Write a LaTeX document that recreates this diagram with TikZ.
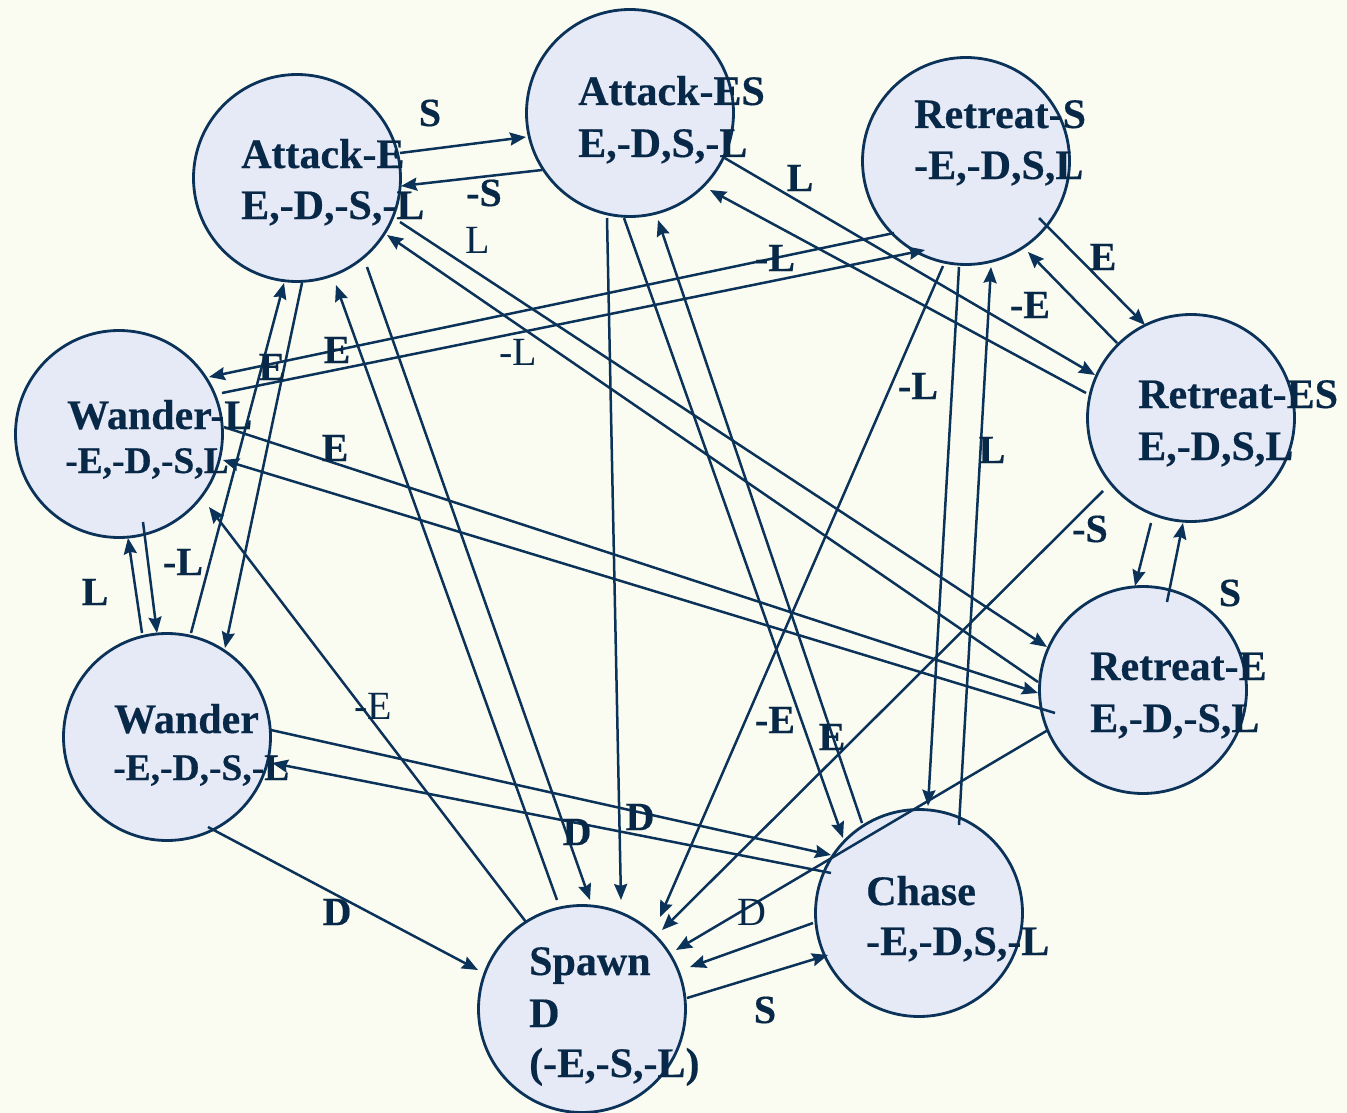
\documentclass[tikz,border=0pt]{standalone}
\usepackage{fontspec}
\setmainfont[BoldFeatures={FakeBold=0.4}]{Liberation Serif}
\usetikzlibrary{arrows.meta,calc}
\definecolor{bgc}{HTML}{FBFCF1}
\definecolor{fillc}{HTML}{E6E9F6}
\definecolor{linec}{HTML}{0B3258}
\definecolor{textc}{HTML}{082848}
\begin{document}
\begin{tikzpicture}[x=1pt,y=-1pt,
  state/.style={circle,draw=linec,fill=fillc,line width=2.8pt,minimum size=207pt,inner sep=0pt},
  conn/.style={draw=linec,line width=2.5pt,-{Stealth[length=16pt,width=13pt,inset=2pt]}},
  ntext/.style={anchor=base west,text=textc,font=\fontsize{42}{50}\selectfont\bfseries,inner sep=0pt},
  ntexts/.style={anchor=base west,text=textc,font=\fontsize{37.5}{45}\selectfont\bfseries,inner sep=0pt},
  lab/.style={text=textc,font=\fontsize{40}{48}\selectfont\bfseries,inner sep=0pt},
  labr/.style={text=textc,font=\fontsize{40}{48}\selectfont,inner sep=0pt}]
\fill[bgc] (0,0) rectangle (1347,1113);
\useasboundingbox (0,0) rectangle (1347,1113);
% states
\node[state] (ae)  at (297,178) {};
\node[state] (aes) at (630,113) {};
\node[state] (rs)  at (966,161) {};
\node[state] (wl)  at (119,434) {};
\node[state] (res) at (1191,418) {};
\node[state] (re)  at (1143,690) {};
\node[state] (w)   at (167,737) {};
\node[state] (sp)  at (582,1009) {};
\node[state] (ch)  at (919,913) {};
% connectors
\draw[conn] ($(ae)+(103,-25)$) -- ($(aes)+(-104,24)$);
\draw[conn] ($(aes)+(-88,57)$) -- ($(ae)+(104,8)$);
\draw[conn] ($(ae)+(103,44)$) -- ($(re)+(-96,-43)$);
\draw[conn] ($(re)+(-105,-8)$) -- ($(ae)+(90,57)$);
\draw[conn] ($(wl)+(105,-7)$) -- ($(re)+(-105,3)$);
\draw[conn] ($(re)+(-88,23)$) -- ($(wl)+(104,26)$);
\draw[conn] ($(re)+(-95,40)$) -- ($(sp)+(94,-59)$);
\draw[conn] ($(re)+(24,-88)$) -- ($(res)+(-8,105)$);
\draw[conn] ($(res)+(-40,105)$) -- ($(re)+(-8,-104)$);
\draw[conn] ($(res)+(-88,73)$) -- ($(sp)+(80,-79)$);
\draw[conn] ($(rs)+(-23,105)$) -- ($(sp)+(78,-92)$);
\draw[conn] ($(aes)+(-23,105)$) -- ($(sp)+(39,-109)$);
\draw[conn] ($(ae)+(70,89)$) -- ($(sp)+(8,-109)$);
\draw[conn] ($(sp)+(-25,-109)$) -- ($(ae)+(39,107)$);
\draw[conn] ($(wl)+(103,-41)$) -- ($(rs)+(-41,89)$);
\draw[conn] ($(rs)+(-72,72)$) -- ($(wl)+(90,-57)$);
\draw[conn] ($(w)+(24,-104)$) -- ($(ae)+(-13,105)$);
\draw[conn] ($(ae)+(5,105)$) -- ($(w)+(58,-89)$);
\draw[conn] ($(w)+(-25,-104)$) -- ($(wl)+(9,104)$);
\draw[conn] ($(wl)+(24,88)$) -- ($(w)+(-10,-104)$);
\draw[conn] ($(sp)+(-56,-87)$) -- ($(wl)+(90,73)$);
\draw[conn] ($(w)+(41,90)$) -- ($(sp)+(-104,-39)$);
\draw[conn] ($(w)+(104,-7)$) -- ($(ch)+(-88,-58)$);
\draw[conn] ($(ch)+(-88,-40)$) -- ($(w)+(105,26)$);
\draw[conn] ($(ch)+(-106,10)$) -- ($(sp)+(108,-42)$);
\draw[conn] ($(sp)+(105,-11)$) -- ($(ch)+(-91,42)$);
\draw[conn] ($(aes)+(-6,105)$) -- ($(ch)+(-76,-75)$);
\draw[conn] ($(ch)+(-57,-90)$) -- ($(aes)+(28,107)$);
\draw[conn] ($(rs)+(-7,106)$) -- ($(ch)+(9,-107)$);
\draw[conn] ($(ch)+(40,-88)$) -- ($(rs)+(25,106)$);
\draw[conn] ($(aes)+(93,44)$) -- ($(res)+(-96,-43)$);
\draw[conn] ($(res)+(-105,-25)$) -- ($(aes)+(80,77)$);
\draw[conn] ($(rs)+(73,57)$) -- ($(res)+(-46,-93)$);
\draw[conn] ($(res)+(-74,-75)$) -- ($(rs)+(62,91)$);
% state texts
\node[ntext] (aet1) at (241,168) {Attack-E};
\node[ntext] (aet2) at (241,219) {E,-D,-S,-L};
\node[ntext] (aest1) at (578,105) {Attack-ES};
\node[ntext] (aest2) at (578,157) {E,-D,S,-L};
\node[ntext] (rst1) at (914,128) {Retreat-S};
\node[ntext] (rst2) at (914,179) {-E,-D,S,L};
\node[ntext] (wlt1) at (67,429) {Wander-L};
\node[ntexts] (wlt2) at (65,473) {-E,-D,-S,L};
\node[ntext] (wt1) at (114,733) {Wander};
\node[ntexts] (wt2) at (113,780) {-E,-D,-S,-L};
\node[ntext] (rest1) at (1138,408) {Retreat-ES};
\node[ntext] (rest2) at (1138,460) {E,-D,S,L};
\node[ntext] (ret1) at (1090,680) {Retreat-E};
\node[ntext] (ret2) at (1090,732) {E,-D,-S,L};
\node[ntext] (cht1) at (866,905) {Chase};
\node[ntext] (cht2) at (866,955) {-E,-D,S,-L};
\node[ntext] (spt1) at (529,975) {Spawn};
\node[ntext] (spt2) at (529,1027) {D};
\node[ntext] (spt3) at (529,1077) {(-E,-S,-L)};
% connector labels
\node[lab] (l1) at (430,113) {S};
\node[lab] (l2) at (484,193) {-S};
\node[labr] (l3) at (478,240) {L};
\node[lab] (l4) at (800,178) {L};
\node[lab] (l5) at (775,258) {-L};
\node[lab] (l6) at (1103,257) {E};
\node[lab] (l7) at (1030,305) {-E};
\node[lab] (l8) at (272,367) {E};
\node[lab] (l9) at (337,350) {E};
\node[labr] (l10) at (518,352) {-L};
\node[lab] (l11) at (918,386) {-L};
\node[lab] (l12) at (335,448) {E};
\node[lab] (l13) at (992,450) {L};
\node[lab] (l14) at (1090,529) {-S};
\node[lab] (l15) at (1230,593) {S};
\node[lab] (l16) at (95,592) {L};
\node[lab] (l17) at (183,562) {-L};
\node[labr] (l18) at (373,706) {-E};
\node[lab] (l19) at (775,720) {-E};
\node[lab] (l20) at (832,737) {E};
\node[lab] (l21) at (577,832) {D};
\node[lab] (l22) at (640,817) {D};
\node[lab] (l23) at (337,912) {D};
\node[labr] (l24) at (752,912) {D};
\node[lab] (l25) at (765,1010) {S};
\end{tikzpicture}
\end{document}
